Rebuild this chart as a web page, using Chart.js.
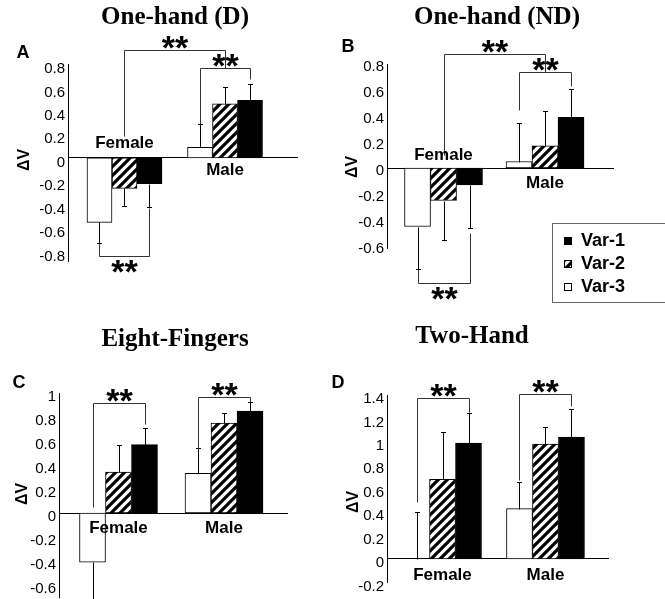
<!DOCTYPE html>
<html>
<head>
<meta charset="utf-8">
<script src="https://cdn.jsdelivr.net/npm/chart.js@4.4.1/dist/chart.umd.min.js"></script>
<style>
  html, body { margin: 0; padding: 0; background: #fff; overflow: hidden; }
  body { width: 665px; height: 599px; position: relative; }
  canvas { position: absolute; }
</style>
</head>
<body>
<canvas id="pA" width="330" height="300" style="left:0;top:0"></canvas>
<canvas id="pB" width="335" height="305" style="left:330px;top:0"></canvas>
<canvas id="pC" width="330" height="330" style="left:0;top:300px"></canvas>
<canvas id="pD" width="335" height="330" style="left:330px;top:300px"></canvas>
<script>
var SANS = "'Liberation Sans', Arial, sans-serif";
var SERIF = "'Liberation Serif', 'Times New Roman', serif";

// groups and series (series in left-to-right bar order)
var categories = ['Female', 'Male'];
var series = ['Var-3', 'Var-2', 'Var-1'];

// A: One-hand (D)   rows = Var-3, Var-2, Var-1 ; cols = Female, Male
var oneHandD_mean = [[-0.55, 0.09], [-0.26, 0.46], [-0.22, 0.49]];
var oneHandD_err = [[0.18, 0.20], [0.15, 0.14], [0.20, 0.14]];
var oneHandD_ticks = [-0.8, -0.6, -0.4, -0.2, 0, 0.2, 0.4, 0.6, 0.8];

// B: One-hand (ND)
var oneHandND_mean = [[-0.45, 0.05], [-0.25, 0.17], [-0.13, 0.39]];
var oneHandND_err = [[0.33, 0.30], [0.30, 0.27], [0.33, 0.22]];
var oneHandND_ticks = [-0.6, -0.4, -0.2, 0, 0.2, 0.4, 0.6, 0.8];

// C: Eight-Fingers
var eightFingers_mean = [[-0.41, 0.33], [0.34, 0.75], [0.57, 0.85]];
var eightFingers_err = [[0.40, 0.21], [0.23, 0.08], [0.14, 0.075]];
var eightFingers_ticks = [-0.6, -0.4, -0.2, 0, 0.2, 0.4, 0.6, 0.8, 1];

// D: Two-Hand
var twoHand_mean = [[0, 0.43], [0.68, 0.98], [0.99, 1.04]];
var twoHand_err = [[0.40, 0.23], [0.40, 0.15], [0.26, 0.24]];
var twoHand_ticks = [-0.2, 0, 0.2, 0.4, 0.6, 0.8, 1, 1.2, 1.4];

// significance brackets: a/b = [group, series], heights in data units
var oneHandD_sig = [
  { a: [0, 1], b: [1, 1], from: 0.19, at: 0.92, to: 0.77, up: true },
  { a: [1, 0], b: [1, 2], from: 0.29, at: 0.77, to: 0.67, up: true },
  { a: [0, 0], b: [0, 2], from: -0.73, at: -0.835, to: -0.426, up: false }
];
var oneHandND_sig = [
  { a: [0, 1], b: [1, 1], from: 0.1, at: 0.877, to: 0.74, up: true },
  { a: [1, 0], b: [1, 2], from: 0.446, at: 0.74, to: 0.63, up: true },
  { a: [0, 0], b: [0, 2], from: -0.777, at: -0.885, to: -0.5, up: false }
];
var eightFingers_sig = [
  { a: [0, 0], b: [0, 2], from: 0.05, at: 0.917, to: 0.74, up: true },
  { a: [1, 0], b: [1, 2], from: 0.533, at: 0.967, to: 0.925, up: true }
];
var twoHand_sig = [
  { a: [0, 0], b: [0, 2], from: 0.487, at: 1.375, to: 1.255, up: true },
  { a: [1, 0], b: [1, 2], from: 0.675, at: 1.41, to: 1.307, up: true }
];

function hatch() {
  var c = document.createElement('canvas');
  c.width = c.height = 9;
  var g = c.getContext('2d');
  g.fillStyle = '#fff';
  g.fillRect(0, 0, 9, 9);
  g.strokeStyle = '#000';
  g.lineWidth = 3.2;
  g.beginPath();
  g.moveTo(-2, 11); g.lineTo(11, -2);
  g.moveTo(-2, 2); g.lineTo(2, -2);
  g.moveTo(7, 11); g.lineTo(11, 7);
  g.stroke();
  return g.createPattern(c, 'repeat');
}
var fills = ['#fff', hatch(), '#000'];

var panels = [
  { id: 'pA', title: 'One-hand (D)', letter: 'A', mean: oneHandD_mean, err: oneHandD_err, ticks: oneHandD_ticks, sig: oneHandD_sig,
    ymin: -0.88, ymax: 0.8, xmin: -0.562, xmax: 1.716, bar: 25, labelOffset: 5,
    pad: { left: 18, right: 33, top: 64, bottom: 39 },
    titleAt: [175, 18], letterAt: [23, 53], dvAt: [25, 160], catOffset: [-14, 13] },
  { id: 'pB', title: 'One-hand (ND)', letter: 'B', mean: oneHandND_mean, err: oneHandND_err, ticks: oneHandND_ticks, sig: oneHandND_sig,
    ymin: -0.62, ymax: 0.8, xmin: -0.557, xmax: 1.67, bar: 26, labelOffset: 3,
    pad: { left: 7, right: 52, top: 64, bottom: 56.4 },
    titleAt: [167, 18], letterAt: [18, 47], dvAt: [23, 167], catOffset: [-13, 15],
    legend: { x: 222, y: 223, w: 130, h: 79, rows: [241, 264, 287], markX: 234, textX: 251 } },
  { id: 'pC', title: 'Eight-Fingers', letter: 'C', mean: eightFingers_mean, err: eightFingers_err, ticks: eightFingers_ticks, sig: eightFingers_sig,
    ymin: -0.7, ymax: 1, xmin: -0.564, xmax: 1.597, bar: 26, labelOffset: 4,
    pad: { left: 9, right: 43, top: 93, bottom: 33 },
    titleAt: [175, 40], letterAt: [19, 83], dvAt: [23, 194], catOffset: [15, 15] },
  { id: 'pD', title: 'Two-Hand', letter: 'D', mean: twoHand_mean, err: twoHand_err, ticks: twoHand_ticks, sig: twoHand_sig,
    ymin: -0.2, ymax: 1.4, xmin: -0.539, xmax: 1.607, bar: 26, labelOffset: 4,
    pad: { left: 7, right: 57, top: 95, bottom: 47.6 },
    titleAt: [142, 37], letterAt: [8, 83], dvAt: [24, 202], catOffset: [16, 16] }
];

function figure(p) {
  return {
    id: 'fig' + p.letter,
    afterDatasetsDraw: function (chart) {
      var ctx = chart.ctx, ys = chart.scales.y;
      var px = function (s, c) { return Math.round(chart.getDatasetMeta(s).data[c].x) + 0.5; };
      var py = function (v) { return Math.round(ys.getPixelForValue(v)) + 0.5; };
      ctx.save();
      ctx.lineWidth = 1;
      ctx.strokeStyle = '#000';
      // one-sided error bars
      p.err.forEach(function (row, s) {
        row.forEach(function (e, c) {
          var v = p.mean[s][c], dir = v < 0 ? -1 : 1;
          var x = px(s, c), y0 = py(v), y1 = py(v + dir * e);
          ctx.beginPath();
          ctx.moveTo(x, y0); ctx.lineTo(x, y1);
          ctx.moveTo(x - 2.5, y1); ctx.lineTo(x + 2.5, y1);
          ctx.stroke();
        });
      });
      // brackets + stars
      ctx.strokeStyle = '#333';
      ctx.fillStyle = '#000';
      ctx.font = 'bold 34px ' + SANS;
      ctx.textAlign = 'center';
      ctx.textBaseline = 'alphabetic';
      var m = ctx.measureText('**');
      var mid = (m.actualBoundingBoxDescent - m.actualBoundingBoxAscent) / 2;
      p.sig.forEach(function (b) {
        var xa = px(b.a[1], b.a[0]), xb = px(b.b[1], b.b[0]), yl = py(b.at);
        ctx.beginPath();
        ctx.moveTo(xa, py(b.from)); ctx.lineTo(xa, yl);
        ctx.lineTo(xb, yl); ctx.lineTo(xb, py(b.to));
        ctx.stroke();
        var cy = b.up ? yl - 8 : yl + 10;
        ctx.fillText('**', (xa + xb) / 2, cy - mid);
      });
      ctx.restore();
    },
    afterDraw: function (chart) {
      var ctx = chart.ctx, ys = chart.scales.y;
      ctx.save();
      ctx.fillStyle = '#000';
      ctx.textAlign = 'center';
      ctx.textBaseline = 'middle';
      ctx.font = 'bold 25px ' + SERIF;
      ctx.fillText(p.title, p.titleAt[0], p.titleAt[1]);
      ctx.font = 'bold 18px ' + SANS;
      ctx.fillText(p.letter, p.letterAt[0], p.letterAt[1]);

      // group names next to the zero line
      var zero = ys.getPixelForValue(0);
      ctx.font = 'bold 17px ' + SANS;
      categories.forEach(function (name, c) {
        var xs = series.map(function (_, s) { return chart.getDatasetMeta(s).data[c].x; });
        var cx = (Math.min.apply(null, xs) + Math.max.apply(null, xs)) / 2;
        ctx.fillText(name, cx, zero + p.catOffset[c]);
      });

      // axis title
      ctx.save();
      ctx.translate(p.dvAt[0], p.dvAt[1]);
      ctx.rotate(-Math.PI / 2);
      ctx.font = 'bold 16px ' + SANS;
      ctx.fillText('\u0394V', 0, 0);
      ctx.restore();

      if (p.legend) {
        var L = p.legend;
        ctx.strokeStyle = '#666';
        ctx.lineWidth = 1;
        ctx.strokeRect(L.x + 0.5, L.y + 0.5, L.w, L.h);
        ctx.font = 'bold 18px ' + SANS;
        ctx.textAlign = 'left';
        [2, 1, 0].forEach(function (s, k) {
          var ds = chart.data.datasets[s], yy = L.rows[k];
          ctx.fillStyle = ds.backgroundColor;
          ctx.fillRect(L.markX, yy - 4, 8, 8);
          ctx.strokeStyle = '#000';
          ctx.strokeRect(L.markX + 0.5, yy - 3.5, 7, 7);
          ctx.fillStyle = '#000';
          ctx.fillText(ds.label, L.textX, yy);
        });
      }
      ctx.restore();
    }
  };
}

function makeChart(p) {
  var datasets = series.map(function (name, s) {
    return {
      label: name,
      data: p.mean[s].map(function (v, c) { return { x: c, y: v }; }),
      backgroundColor: fills[s],
      borderColor: '#000',
      borderWidth: 1,
      borderSkipped: false,
      barThickness: p.bar
    };
  });
  return new Chart(document.getElementById(p.id), {
    type: 'bar',
    data: { datasets: datasets },
    options: {
      responsive: false,
      animation: false,
      events: [],
      layout: { padding: p.pad },
      scales: {
        x: {
          type: 'linear', min: p.xmin, max: p.xmax, offset: false,
          position: { y: 0 },
          grid: { display: false },
          ticks: { display: false },
          border: { color: '#000', width: 1 }
        },
        y: {
          type: 'linear', min: p.ymin, max: p.ymax, bounds: 'data',
          grid: { display: false, drawTicks: false },
          border: { color: '#000', width: 1 },
          afterBuildTicks: function (sc) { sc.ticks = p.ticks.map(function (v) { return { value: v }; }); },
          afterFit: function (sc) { sc.width = 50; },
          ticks: {
            padding: 3,
            labelOffset: p.labelOffset,
            color: '#000',
            font: { family: SANS, size: 15 },
            callback: function (v) { return String(Math.round(v * 10) / 10); }
          }
        }
      },
      plugins: { legend: { display: false }, tooltip: { enabled: false }, title: { display: false } }
    },
    plugins: [figure(p)]
  });
}

panels.forEach(makeChart);
</script>
</body>
</html>
